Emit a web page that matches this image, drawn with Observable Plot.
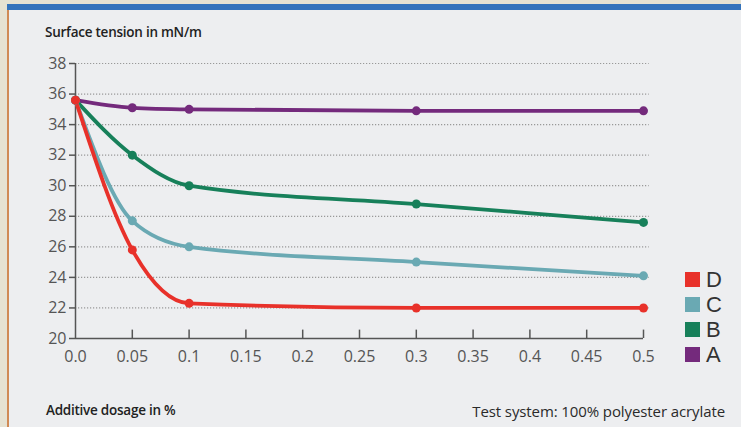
<!DOCTYPE html>
<html>
<head>
<meta charset="utf-8">
<script src="https://cdn.jsdelivr.net/npm/d3@7"></script>
<script src="https://cdn.jsdelivr.net/npm/@observablehq/plot@0.6"></script>
<style>
  html, body { margin: 0; padding: 0; }
  body { width: 741px; height: 427px; overflow: hidden; background: #e6e2d2; position: relative; font-family: "Open Sans", "Noto Sans", sans-serif; }
  #bluebar { position: absolute; left: 7px; top: 4px; width: 734px; height: 6px; background: #3573bb; }
  #panel { position: absolute; left: 7px; top: 10px; width: 734px; height: 417px; background: #edeef0; border-left: 2px solid #d08a55; box-sizing: border-box; }
  #chart { position: absolute; left: 0; top: 0; }
  .ttl { position: absolute; font-size: 13.5px; line-height: 16px; color: #222; font-weight: 600; letter-spacing: -0.25px; white-space: nowrap; }
  .note { position: absolute; font-size: 15px; line-height: 18px; color: #2a2a2a; letter-spacing: -0.1px; white-space: nowrap; }
  #legend { position: absolute; left: 685px; top: 267px; }
  .li { height: 25px; line-height: 25px; display: flex; align-items: center; font-size: 22px; color: #333; font-family: "Liberation Sans", Arial, sans-serif; }
  .sw { width: 15px; height: 15px; margin-right: 6px; }
</style>
</head>
<body>
<div id="bluebar"></div>
<div id="panel"></div>
<div id="chart"></div>
<div class="ttl" style="left:45px; top:24px;">Surface tension in mN/m</div>
<div class="ttl" style="left:46px; top:402px;">Additive dosage in %</div>
<div class="note" style="right:16px; top:402px;">Test system: 100% polyester acrylate</div>
<div id="legend"></div>
<script>
const dosage = [0, 0.05, 0.1, 0.3, 0.5];
const seriesNames = ["A", "B", "C", "D"];
const valuesA = [35.6, 35.1, 35.0, 34.9, 34.9];
const valuesB = [35.6, 32.0, 30.0, 28.8, 27.6];
const valuesC = [35.6, 27.7, 26.0, 25.0, 24.1];
const valuesD = [35.6, 25.8, 22.3, 22.0, 22.0];
const colors = ["#742a7c", "#17805a", "#6aa9b3", "#e8312a"];
const xTicks = [0, 0.05, 0.1, 0.15, 0.2, 0.25, 0.3, 0.35, 0.4, 0.45, 0.5];
const xTickLabels = ["0.0", "0.05", "0.1", "0.15", "0.2", "0.25", "0.3", "0.35", "0.4", "0.45", "0.5"];
const yTicks = [20, 22, 24, 26, 28, 30, 32, 34, 36, 38];
const gridTicks = [22, 24, 26, 28, 30, 32, 34, 36, 38];
const legendOrder = ["D", "C", "B", "A"];

const allValues = [valuesA, valuesB, valuesC, valuesD];
const data = [];
seriesNames.forEach((s, i) => dosage.forEach((x, j) => data.push({series: s, x, y: allValues[i][j]})));

const plot = Plot.plot({
  width: 741,
  height: 372,
  marginLeft: 75,
  marginRight: 98,
  marginTop: 63,
  marginBottom: 34,
  style: {background: "transparent", fontFamily: "'Open Sans', 'Noto Sans', sans-serif"},
  x: {domain: [0, 0.5], label: null},
  y: {domain: [20, 38], label: null},
  color: {domain: seriesNames, range: colors},
  marks: [
    Plot.gridY(gridTicks, {x1: 0, x2: 0.505, stroke: "#8a8a8a", strokeOpacity: 0.85, strokeWidth: 1.2, strokeDasharray: "1.2,1.8"}),
    Plot.axisY({ticks: yTicks, tickSize: 6, tickPadding: 3, fontSize: 16, color: "#555", stroke: "#555", strokeWidth: 1.5}),
    Plot.axisX({ticks: xTicks, tickFormat: (d) => xTickLabels[xTicks.indexOf(d)], tickSize: 0, tickPadding: 12, fontSize: 16, color: "#555"}),
    Plot.ruleX(xTicks.slice(1), {x: d => d, y1: 20, y2: 20.55, stroke: "#555", strokeWidth: 1.5}),
    Plot.ruleY([20], {stroke: "#555", strokeWidth: 1.5}),
    Plot.ruleX([0], {y1: 20, y2: 38, stroke: "#555", strokeWidth: 1.5}),
    Plot.line(data, {x: "x", y: "y", z: "series", stroke: "series", strokeWidth: 3.8, curve: "monotone-x"}),
    Plot.dot(data, {x: "x", y: "y", fill: "series", r: 4.5})
  ]
});
document.getElementById("chart").appendChild(plot);

const leg = document.getElementById("legend");
legendOrder.forEach(s => {
  const row = document.createElement("div");
  row.className = "li";
  row.innerHTML = `<div class="sw" style="background:${colors[seriesNames.indexOf(s)]}"></div><span>${s}</span>`;
  leg.appendChild(row);
});
</script>
</body>
</html>
